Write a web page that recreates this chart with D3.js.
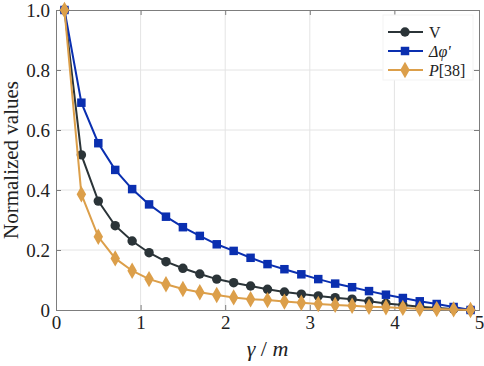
<!DOCTYPE html>
<html>
<head>
<meta charset="utf-8">
<script src="https://cdn.jsdelivr.net/npm/d3@7"></script>
<style>
  html, body { margin: 0; padding: 0; background: #fff; }
  svg { display: block; font-family: 'Liberation Serif', serif; }
</style>
</head>
<body>
<div id="chart"></div>
<script>
// x positions (gamma / m)
const gammaValues = [0.1, 0.3, 0.5, 0.7, 0.9, 1.1, 1.3, 1.5, 1.7, 1.9, 2.1, 2.3, 2.5,
  2.7, 2.9, 3.1, 3.3, 3.5, 3.7, 3.9, 4.1, 4.3, 4.5, 4.7, 4.9]

// normalized series
const seriesV = [1.0, 0.517, 0.363, 0.281, 0.230, 0.191, 0.161, 0.139, 0.120, 0.103, 0.091, 0.080,
  0.069, 0.060, 0.053, 0.047, 0.041, 0.036, 0.029, 0.022, 0.017, 0.011, 0.007, 0.003, 0.0]
const seriesPhi = [1.0, 0.691, 0.556, 0.467, 0.403, 0.352, 0.311, 0.276, 0.247, 0.219, 0.197, 0.174,
  0.153, 0.136, 0.119, 0.103, 0.088, 0.076, 0.063, 0.051, 0.040, 0.029, 0.020, 0.010, 0.0]
const seriesP = [1.0, 0.386, 0.244, 0.172, 0.131, 0.103, 0.086, 0.070, 0.059, 0.050, 0.042, 0.036,
  0.033, 0.028, 0.024, 0.020, 0.017, 0.014, 0.011, 0.009, 0.007, 0.004, 0.003, 0.002, 0.0]

const xTicks = [0, 1, 2, 3, 4, 5]
const yTicks = [0, 0.2, 0.4, 0.6, 0.8, 1.0]
const yTickLabels = ['0', '0.2', '0.4', '0.6', '0.8', '1.0']

const outerWidth = 484
const outerHeight = 366
const margin = { top: 10, right: 5, bottom: 56, left: 56 }
const width = outerWidth - margin.left - margin.right
const height = outerHeight - margin.top - margin.bottom
const font = "'Liberation Serif', serif"

const raw = d3.select('#chart')
  .append('svg')
  .attr('width', outerWidth)
  .attr('height', outerHeight)
const svg = raw.append('g')
  .attr('transform', `translate(${margin.left},${margin.top})`)

const xs = d3.scaleLinear().domain([0, 5]).range([0, width])
const ys = d3.scaleLinear().domain([0, 1]).range([height, 0])

// grid
svg.append('g')
  .selectAll('line')
  .data(xTicks.slice(1, -1))
  .enter()
  .append('line')
  .attr('x1', (d) => xs(d)).attr('x2', (d) => xs(d))
  .attr('y1', 0).attr('y2', height)
  .attr('stroke', '#e4e4e4')
svg.append('g')
  .selectAll('line')
  .data(yTicks.slice(1, -1))
  .enter()
  .append('line')
  .attr('y1', (d) => ys(d)).attr('y2', (d) => ys(d))
  .attr('x1', 0).attr('x2', width)
  .attr('stroke', '#e4e4e4')

// axes (matlab-like inward ticks, box all round)
const axisColor = '#7d7d7d'
svg.append('g')
  .attr('transform', `translate(0,${height})`)
  .call(d3.axisBottom(xs).tickValues(xTicks).tickSize(-5).tickPadding(6).tickFormat(d3.format('d')))
svg.append('g')
  .call(d3.axisLeft(ys).tickValues(yTicks).tickSize(-5).tickPadding(6)
    .tickFormat((d, i) => yTickLabels[i]))
svg.append('g')
  .call(d3.axisTop(xs).tickValues(xTicks).tickSize(-5).tickFormat(''))
svg.append('g')
  .attr('transform', `translate(${width},0)`)
  .call(d3.axisRight(ys).tickValues(yTicks).tickSize(-5).tickFormat(''))
svg.selectAll('.domain, .tick line').attr('stroke', axisColor)
svg.selectAll('.tick text')
  .attr('fill', '#222')
  .style('font-size', '19px')
  .style('font-family', font)

// series
const series = [
  { name: 'V', values: seriesV, color: '#2b3438', marker: d3.symbolCircle, size: 70 },
  { name: 'phi', values: seriesPhi, color: '#0a2fb0', marker: d3.symbolSquare, size: 72 },
  { name: 'P', values: seriesP, color: '#dc9f4a', marker: d3.symbolDiamond, size: 78 }
]

const line = d3.line()
  .x((d, i) => xs(gammaValues[i]))
  .y((d) => ys(d))

series.forEach((s) => {
  svg.append('path')
    .datum(s.values)
    .attr('d', line)
    .attr('fill', 'none')
    .attr('stroke', s.color)
    .attr('stroke-width', 2)
  svg.append('g')
    .selectAll('path')
    .data(s.values)
    .enter()
    .append('path')
    .attr('transform', (d, i) => `translate(${xs(gammaValues[i])},${ys(d)})`)
    .attr('d', d3.symbol().type(s.marker).size(s.size))
    .attr('fill', s.color)
})

// legend
const legend = svg.append('g')
  .attr('transform', `translate(${width - 96},5)`)
legend.append('rect')
  .attr('width', 90)
  .attr('height', 65)
  .attr('fill', '#fff')
  .attr('stroke', '#f3f3f3')
series.forEach((s, i) => {
  const g = legend.append('g').attr('transform', `translate(0,${17 + i * 19})`)
  g.append('line')
    .attr('x1', 5).attr('x2', 40)
    .attr('stroke', s.color).attr('stroke-width', 2)
  g.append('path')
    .attr('transform', 'translate(22,0)')
    .attr('d', d3.symbol().type(s.marker).size(s.size))
    .attr('fill', s.color)
})
const legendText = legend.append('g')
  .style('font-size', '16px')
  .style('font-family', font)
  .attr('fill', '#222')
legendText.append('text')
  .attr('x', 46).attr('y', 17).attr('dy', '0.35em')
  .text('V')
legendText.append('text')
  .attr('x', 46).attr('y', 36).attr('dy', '0.35em')
  .style('font-style', 'italic')
  .text('Δφ\'')
const pText = legendText.append('text')
  .attr('x', 46).attr('y', 55).attr('dy', '0.35em')
pText.append('tspan').style('font-style', 'italic').text('P')
pText.append('tspan').text('[38]')

// axis labels
svg.append('text')
  .attr('transform', 'rotate(-90)')
  .attr('x', -(height / 2))
  .attr('y', -38)
  .style('text-anchor', 'middle')
  .style('font-size', '21px')
  .style('font-family', font)
  .attr('fill', '#222')
  .text('Normalized values')
const xLabel = svg.append('text')
  .attr('x', width / 2)
  .attr('y', height + 46)
  .style('text-anchor', 'middle')
  .style('font-size', '22px')
  .style('font-family', font)
  .attr('fill', '#222')
xLabel.append('tspan').style('font-style', 'italic').text('γ')
xLabel.append('tspan').text(' / ')
xLabel.append('tspan').style('font-style', 'italic').text('m')
</script>
</body>
</html>
